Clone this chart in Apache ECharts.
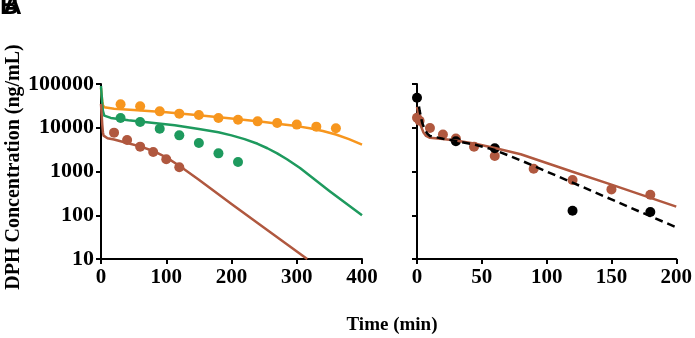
<!DOCTYPE html>
<html>
<head>
<meta charset="utf-8">
<script src="https://cdn.jsdelivr.net/npm/echarts@6/dist/echarts.min.js"></script>
<style>
html,body{margin:0;padding:0;background:#fff;}
#chart{width:695px;height:338px;}
</style>
</head>
<body>
<div id="chart"></div>
<script>
// ---------- Panel A (left) ----------
const leftXTicks = [0, 100, 200, 300, 400];
const yTicks = [10, 100, 1000, 10000, 100000];

const orangeObsTime = [30, 60, 90, 120, 150, 180, 210, 240, 270, 300, 330, 360];
const orangeObsConc = [34300, 30900, 23700, 21000, 19600, 16700, 15300, 14000, 12900, 11800, 10600, 9700];

const greenObsTime = [30, 60, 90, 120, 150, 180, 210];
const greenObsConc = [16700, 13500, 9500, 6700, 4480, 2600, 1650];

const brownObsTime = [20, 40, 60, 80, 100, 120];
const brownObsConc = [7730, 5250, 3700, 2790, 1900, 1245];

const orangeFitTime = [0, 1, 2, 3, 5, 8, 20, 50, 100, 150, 200, 250, 280, 300, 320, 340, 360, 380, 400];
const orangeFitConc = [81000, 55000, 40000, 33000, 29500, 28200, 27300, 25500, 22500, 19200, 16300, 13500, 11900, 10900, 9700, 8400, 7000, 5500, 4100];

const greenFitTime = [0, 1, 2, 3, 5, 8, 15, 42, 113, 150, 180, 200, 220, 240, 255, 270, 285, 305, 350, 400];
const greenFitConc = [90000, 55000, 34000, 24000, 19000, 17600, 16800, 14800, 11400, 9400, 7900, 6700, 5500, 4300, 3400, 2600, 1900, 1200, 360, 100];

const brownFitTime = [0, 1, 2, 3, 4, 6, 10, 20, 40, 60, 80, 100, 120, 150, 200, 250, 316];
const brownFitConc = [35000, 20000, 11500, 7800, 6600, 6000, 5750, 5400, 4500, 3750, 2950, 2100, 1350, 650, 180, 52, 10];

// ---------- Panel B (right) ----------
const rightXTicks = [0, 50, 100, 150, 200];

const bBrownObsTime = [0, 2, 10, 20, 30, 44, 60, 90, 120, 150, 180];
const bBrownObsConc = [17000, 14500, 9900, 7000, 5700, 3700, 2260, 1160, 640, 390, 295];

const bBlackObsTime = [0, 30, 60, 120, 180];
const bBlackObsConc = [48700, 4900, 3390, 127, 119];

const bBrownFitTime = [0, 1, 2, 3, 5, 7, 10, 20, 30, 45, 60, 80, 100, 120, 150, 175, 200];
const bBrownFitConc = [30000, 21000, 15000, 11000, 7800, 6500, 5900, 5500, 5100, 4300, 3450, 2480, 1560, 990, 500, 280, 157];

const bBlackFitTime = [0, 1, 2, 3, 4, 6, 8, 10, 20, 30, 45, 60, 80, 100, 120, 150, 180, 200];
const bBlackFitConc = [60000, 38000, 25000, 17500, 13000, 9000, 7300, 6500, 5600, 5000, 4100, 3100, 1800, 1000, 556, 230, 95, 53];

const labels = {
  panelA: 'A',
  panelB: 'B',
  yTitle: 'DPH Concentration (ng/mL)',
  xTitle: 'Time (min)'
};

const COLORS = { orange: '#F7961E', green: '#1E9A5E', brown: '#B0583F', black: '#000000' };

function zip(a, b) { return a.map((v, i) => [v, b[i]]); }

const SERIF = '"Liberation Serif", "Times New Roman", serif';

function xAxisDef(gridIndex, ticks) {
  return {
    type: 'value', gridIndex: gridIndex,
    min: ticks[0], max: ticks[ticks.length - 1], interval: ticks[1] - ticks[0],
    axisLine: { show: true, onZero: false, lineStyle: { color: '#000', width: 2 } },
    axisTick: { show: true, length: 5, lineStyle: { color: '#000', width: 2 } },
    axisLabel: { show: true, margin: 8, color: '#000', fontFamily: SERIF, fontWeight: 'bold', fontSize: 21,
      formatter: v => String(Math.round(v)) },
    splitLine: { show: false }
  };
}
function yAxisDef(gridIndex, showLabels) {
  return {
    type: 'log', logBase: 10, gridIndex: gridIndex,
    min: yTicks[0], max: yTicks[yTicks.length - 1],
    axisLine: { show: true, onZero: false, lineStyle: { color: '#000', width: 2 } },
    axisTick: { show: true, length: 5, lineStyle: { color: '#000', width: 2 } },
    minorTick: { show: false },
    axisLabel: { show: showLabels, margin: 7, color: '#000', fontFamily: SERIF, fontWeight: 'bold', fontSize: 22,
      formatter: v => String(Math.round(v)) },
    splitLine: { show: false }
  };
}
function scatter(xi, time, conc, color) {
  return { type: 'scatter', xAxisIndex: xi, yAxisIndex: xi, data: zip(time, conc),
    symbol: 'circle', symbolSize: 10, itemStyle: { color: color, opacity: 1 }, z: 3, silent: true };
}
function line(xi, time, conc, color, dashed) {
  return { type: 'line', xAxisIndex: xi, yAxisIndex: xi, data: zip(time, conc),
    showSymbol: false, smooth: false,
    lineStyle: { color: color, width: 2.5, type: dashed ? [8, 5] : 'solid', join: 'round', cap: 'butt' },
    z: 4, silent: true, clip: true };
}

const chart = echarts.init(document.getElementById('chart'), null, { renderer: 'canvas' });
chart.setOption({
  backgroundColor: '#fff',
  animation: false,
  grid: [
    { left: 101, top: 84, width: 261, height: 175 },
    { left: 417, top: 84, width: 260, height: 175 }
  ],
  xAxis: [xAxisDef(0, leftXTicks), xAxisDef(1, rightXTicks)],
  yAxis: [yAxisDef(0, true), yAxisDef(1, false)],
  series: [
    line(0, orangeFitTime, orangeFitConc, COLORS.orange),
    line(0, greenFitTime, greenFitConc, COLORS.green),
    line(0, brownFitTime, brownFitConc, COLORS.brown),
    scatter(0, orangeObsTime, orangeObsConc, COLORS.orange),
    scatter(0, greenObsTime, greenObsConc, COLORS.green),
    scatter(0, brownObsTime, brownObsConc, COLORS.brown),
    line(1, bBrownFitTime, bBrownFitConc, COLORS.brown),
    line(1, bBlackFitTime, bBlackFitConc, COLORS.black, true),
    scatter(1, bBrownObsTime, bBrownObsConc, COLORS.brown),
    scatter(1, bBlackObsTime, bBlackObsConc, COLORS.black)
  ],
  graphic: [
    { type: 'text', left: 0, top: -6, style: { text: labels.panelB, font: 'bold 26px "Liberation Sans", Arial, sans-serif', fill: '#000' } },
    { type: 'text', left: 3, top: -6, style: { text: labels.panelA, font: 'bold 26px "Liberation Sans", Arial, sans-serif', fill: '#000' } },
    { type: 'text', x: 392, y: 325, style: { text: labels.xTitle, font: 'bold 19px ' + SERIF, fill: '#000', align: 'center', verticalAlign: 'middle' } },
    { type: 'text', x: 14, y: 167, rotation: Math.PI / 2, style: { text: labels.yTitle, font: 'bold 20px ' + SERIF, fill: '#000', align: 'center', verticalAlign: 'middle' } }
  ]
});
</script>
</body>
</html>
